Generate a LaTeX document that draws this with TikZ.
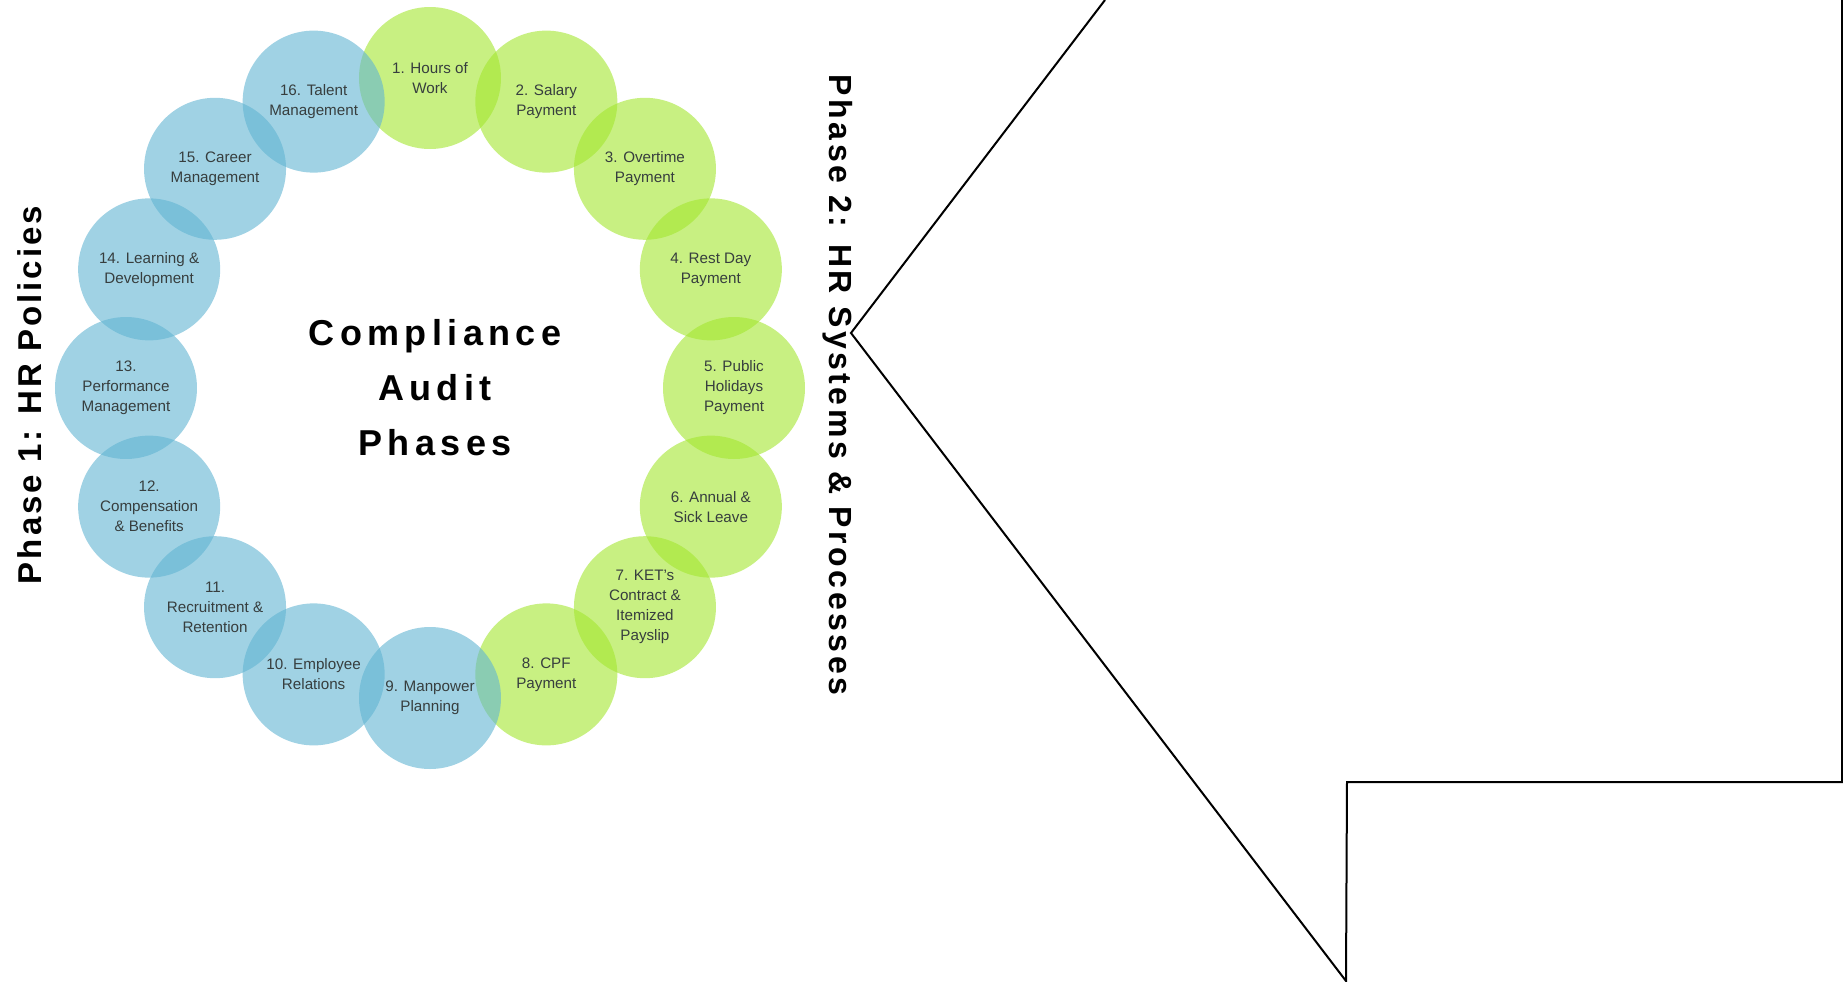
\documentclass[tikz,border=0pt]{standalone}
\usepackage{fontspec}
\setmainfont{Liberation Sans}
\usepackage{tikz}
\usetikzlibrary{shapes,positioning,calc}
\definecolor{limegreen}{RGB}{163,230,47}
\definecolor{skyblue}{RGB}{97,180,210}
\definecolor{labelgray}{RGB}{55,62,62}

\begin{document}
\begin{tikzpicture}[x=0.5pt,y=0.5pt,
  bubble/.style={circle,minimum size=71pt,inner sep=0pt,fill opacity=0.6,text opacity=1,
    align=center,text=labelgray,font=\fontsize{7.6}{10}\selectfont},
  greenbubble/.style={bubble,fill=limegreen},
  bluebubble/.style={bubble,fill=skyblue}]
\useasboundingbox (-430,-593) rectangle (1413,388);
\node[greenbubble] (hours) at (90:304 and 310) {1. Hours of\\Work};
\node[greenbubble] (salary) at (67.5:304 and 310) {2. Salary\\Payment};
\node[greenbubble] (overtime) at (45:304 and 310) {3. Overtime\\Payment};
\node[greenbubble] (restday) at (22.5:304 and 310) {4. Rest Day\\Payment};
\node[greenbubble] (holidays) at (0:304 and 310) {5. Public\\Holidays\\Payment};
\node[greenbubble] (leave) at (-22.5:304 and 310) {6. Annual \&\\Sick Leave};
\node[greenbubble] (ket) at (-45:304 and 310) {7. KET's\\Contract \&\\Itemized\\Payslip};
\node[greenbubble] (cpf) at (-67.5:304 and 310) {8. CPF\\Payment};
\node[bluebubble] (manpower) at (-90:304 and 310) {9. Manpower\\Planning};
\node[bluebubble] (relations) at (-112.5:304 and 310) {10. Employee\\Relations};
\node[bluebubble] (recruitment) at (-135:304 and 310) {11.\\Recruitment \&\\Retention};
\node[bluebubble] (compensation) at (-157.5:304 and 310) {12.\\Compensation\\\& Benefits};
\node[bluebubble] (performance) at (180:304 and 310) {13.\\Performance\\Management};
\node[bluebubble] (learning) at (157.5:304 and 310) {14. Learning \&\\Development};
\node[bluebubble] (career) at (135:304 and 310) {15. Career\\Management};
\node[bluebubble] (talent) at (112.5:304 and 310) {16. Talent\\Management};
\node[align=center,font=\fontsize{18}{27.5}\selectfont\bfseries\addfontfeatures{LetterSpace=15}] (title) at (5,0) {Compliance\\Audit\\Phases};
\node[rotate=90,font=\fontsize{16.5}{20}\selectfont\bfseries\addfontfeatures{LetterSpace=9}] (phaseone) at (-400,-7) {Phase 1: HR Policies};
\node[rotate=-90,font=\fontsize{16}{20}\selectfont\bfseries\addfontfeatures{LetterSpace=11}] (phasetwo) at (408,3) {Phase 2: HR Systems \& Processes};
\draw[line width=1pt] (675,388) -- (421,55) -- (916,-593) -- (917,-394) -- (1412,-394) -- (1412,388);
\end{tikzpicture}
\end{document}
